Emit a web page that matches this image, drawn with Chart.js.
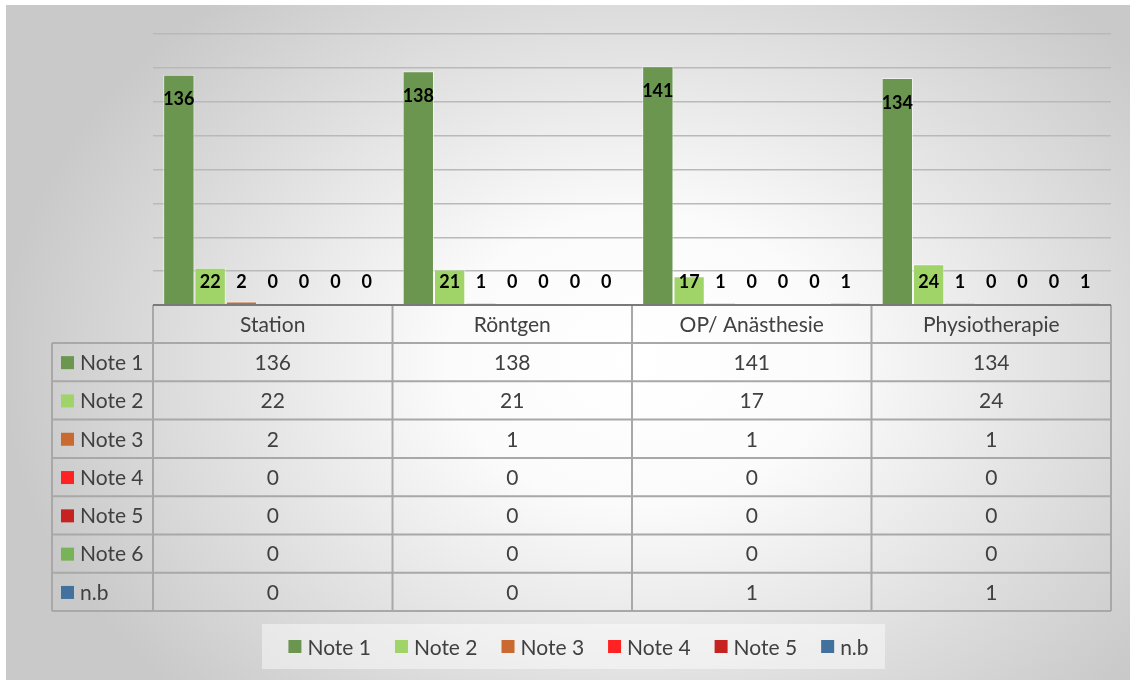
<!DOCTYPE html>
<html>
<head>
<meta charset="utf-8">
<script src="https://cdn.jsdelivr.net/npm/chart.js@4/dist/chart.umd.min.js"></script>
<style>
  html, body { margin: 0; padding: 0; background: #ffffff; }
  #wrap { position: relative; width: 1131px; height: 682px; }
</style>
</head>
<body>
<div id="wrap"><canvas id="c" width="1131" height="682"></canvas></div>
<script>
// ---- data ----
const categories = ['Station', 'Röntgen', 'OP/ Anästhesie', 'Physiotherapie'];
const seriesNames = ['Note 1', 'Note 2', 'Note 3', 'Note 4', 'Note 5', 'Note 6', 'n.b'];
const note1 = [136, 138, 141, 134];
const note2 = [22, 21, 17, 24];
const note3 = [2, 1, 1, 1];
const note4 = [0, 0, 0, 0];
const note5 = [0, 0, 0, 0];
const note6 = [0, 0, 0, 0];
const noteNb = [0, 0, 1, 1];
const seriesColors = ['#6b9650', '#a0d468', '#c96b30', '#ff2222', '#c62222', '#78b358', '#41719c'];
const legendHidden = ['Note 6'];
const yMin = 0, yMax = 160, yStep = 20;

const seriesValues = [note1, note2, note3, note4, note5, note6, noteNb];

const FONT = 'Lato, "Open Sans", sans-serif';
const TEXT = '#404040';

const bgPlugin = {
  id: 'bg',
  beforeDraw(chart) {
    const ctx = chart.ctx;
    ctx.save();
    ctx.fillStyle = '#ffffff';
    ctx.fillRect(0, 0, chart.width, chart.height);
    const cx = 640, cy = 360, sy = 0.75, r = 640;
    ctx.beginPath();
    ctx.rect(6, 5, 1124, 675);
    ctx.clip();
    ctx.translate(cx, cy);
    ctx.scale(1, sy);
    const g = ctx.createRadialGradient(0, 0, 0, 0, 0, r);
    g.addColorStop(0, '#ffffff');
    g.addColorStop(0.3, '#fbfbfb');
    g.addColorStop(1, '#c9c9c9');
    ctx.fillStyle = g;
    ctx.fillRect(-cx - 10, -cy / sy - 10, 1200, 700 / sy + 40);
    ctx.restore();
  }
};

const labelPlugin = {
  id: 'valueLabels',
  afterDatasetsDraw(chart) {
    const ctx = chart.ctx;
    const base = chart.scales.y.getPixelForValue(0);
    ctx.save();
    ctx.font = 'bold 18px ' + FONT;
    ctx.fillStyle = '#000000';
    ctx.textAlign = 'center';
    ctx.textBaseline = 'middle';
    chart.data.datasets.forEach((ds, i) => {
      const meta = chart.getDatasetMeta(i);
      meta.data.forEach((bar, j) => {
        const y = Math.min(bar.y + 25, base - 23);
        ctx.fillText(String(ds.data[j]), bar.x, y);
      });
    });
    ctx.restore();
  }
};

const tablePlugin = {
  id: 'dataTable',
  afterDraw(chart) {
    const ctx = chart.ctx;
    const xs = chart.scales.x;
    const area = chart.chartArea;
    const n = chart.data.labels.length;
    const colW = (area.right - area.left) / n;
    const top = area.bottom;
    const headH = 38;
    const rowH = 38.3;
    const nRows = chart.data.datasets.length;
    const bottom = top + headH + rowH * nRows;
    const leftX = 52;
    ctx.save();
    // lines
    ctx.strokeStyle = '#a8a8a8';
    ctx.lineWidth = 2;
    ctx.beginPath();
    for (let k = 0; k <= n; k++) {
      const x = area.left + k * colW;
      ctx.moveTo(x, top); ctx.lineTo(x, bottom);
    }
    ctx.moveTo(leftX, top + headH); ctx.lineTo(leftX, bottom);
    for (let r = 0; r <= nRows; r++) {
      const y = top + headH + r * rowH;
      ctx.moveTo(leftX, y); ctx.lineTo(area.right, y);
    }
    ctx.stroke();
    ctx.strokeStyle = '#7a7a7a';
    ctx.beginPath();
    ctx.moveTo(area.left, top); ctx.lineTo(area.right, top);
    ctx.stroke();
    // header
    ctx.font = '21px ' + FONT;
    ctx.fillStyle = TEXT;
    ctx.textAlign = 'center';
    ctx.textBaseline = 'middle';
    chart.data.labels.forEach((lab, j) => {
      ctx.fillText(lab, xs.getPixelForValue(j), top + headH / 2 + 1);
    });
    // rows
    chart.data.datasets.forEach((ds, i) => {
      const yc = top + headH + rowH * i + rowH / 2 + 1;
      ctx.fillStyle = ds.backgroundColor;
      ctx.fillRect(61, yc - 7, 13, 13);
      ctx.fillStyle = TEXT;
      ctx.textAlign = 'left';
      ctx.fillText(ds.label, 80, yc);
      ctx.textAlign = 'center';
      ds.data.forEach((v, j) => {
        ctx.fillText(String(v), xs.getPixelForValue(j), yc);
      });
    });
    // legend
    const items = chart.data.datasets.filter(ds => !legendHidden.includes(ds.label));
    ctx.font = '21px ' + FONT;
    const box = 13, tgap = 6, igap = 24;
    const widths = items.map(ds => box + tgap + ctx.measureText(ds.label).width);
    const total = widths.reduce((a, b) => a + b, 0) + igap * (items.length - 1);
    const lcx = 578.5, lcy = 647;
    ctx.fillStyle = 'rgba(255,255,255,0.45)';
    ctx.fillRect(262, 624, 623, 45);
    let x = lcx - total / 2;
    ctx.textAlign = 'left';
    items.forEach((ds, k) => {
      ctx.fillStyle = ds.backgroundColor;
      ctx.fillRect(x, lcy - 7, box, box);
      ctx.fillStyle = TEXT;
      ctx.fillText(ds.label, x + box + tgap, lcy + 1);
      x += widths[k] + igap;
    });
    ctx.restore();
  }
};

function build() {
  new Chart(document.getElementById('c'), {
    type: 'bar',
    data: {
      labels: categories,
      datasets: seriesNames.map((name, i) => ({
        label: name,
        data: seriesValues[i],
        backgroundColor: seriesColors[i],
        borderColor: 'rgba(255,255,255,0.55)',
        borderWidth: 1,
        categoryPercentage: 0.915,
        barPercentage: 1
      }))
    },
    options: {
      responsive: false,
      animation: false,
      events: [],
      layout: { padding: { left: 153, right: 20, top: 34, bottom: 377 } },
      plugins: { legend: { display: false }, tooltip: { enabled: false } },
      scales: {
        x: {
          grid: { display: false },
          border: { display: false },
          ticks: { display: false },
          afterFit(s) { s.height = 0; }
        },
        y: {
          min: yMin, max: yMax,
          ticks: { display: false, stepSize: yStep },
          border: { display: false },
          grid: { color: '#b9b9b9', lineWidth: 1.4, drawTicks: false },
          afterFit(s) { s.width = 0; }
        }
      }
    },
    plugins: [bgPlugin, labelPlugin, tablePlugin]
  });
}

Promise.all([
  document.fonts.load('21px Lato'),
  document.fonts.load('bold 18px Lato')
]).then(build, build);
</script>
</body>
</html>
